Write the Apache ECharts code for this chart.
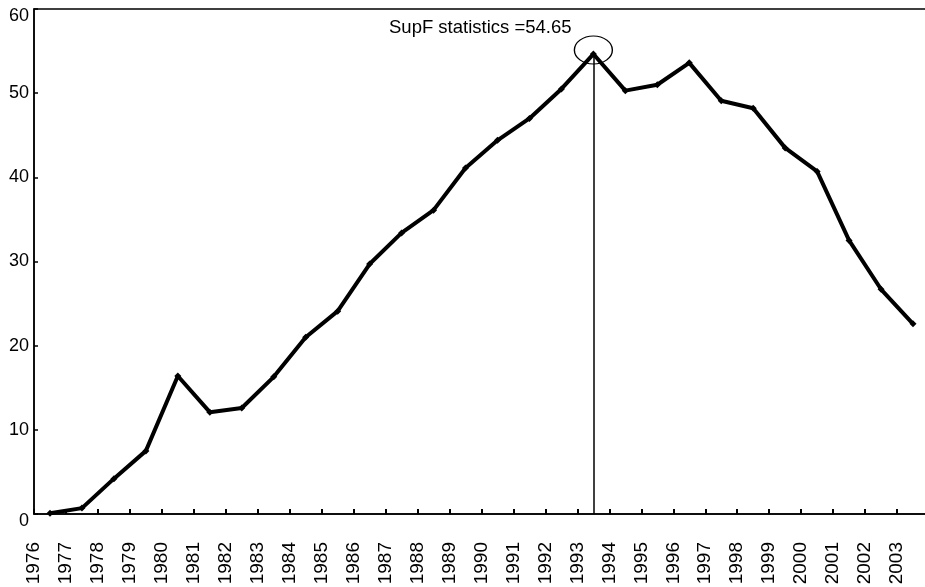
<!DOCTYPE html>
<html>
<head>
<meta charset="utf-8">
<script src="https://cdn.jsdelivr.net/npm/echarts@6/dist/echarts.min.js"></script>
<style>
  html, body { margin: 0; padding: 0; background: #fff; }
  #chart { width: 925px; height: 587px; }
</style>
</head>
<body>
<div id="chart"></div>
<script>
// years and SupF values
const years = ['1976', '1977', '1978', '1979', '1980', '1981', '1982', '1983', '1984', '1985',
  '1986', '1987', '1988', '1989', '1990', '1991', '1992', '1993', '1994', '1995',
  '1996', '1997', '1998', '1999', '2000', '2001', '2002', '2003']
const fStats = [0.1, 0.7, 4.2, 7.5, 16.4, 12.1, 12.6, 16.3, 21.0, 24.1,
  29.7, 33.4, 36.1, 41.1, 44.4, 47.0, 50.5, 54.65, 50.3, 51.0,
  53.6, 49.1, 48.2, 43.5, 40.7, 32.5, 26.7, 22.6]
// tick labels sit on the band edges, one extra blank edge at the end
const tickLabels = years.concat([''])
const peakYear = '1993'
const supF = 54.65

const font = 'Liberation Sans, Arial, Helvetica, sans-serif'
const chart = echarts.init(document.getElementById('chart'))

chart.setOption({
  animation: false,
  title: {
    text: 'SupF statistics =' + supF,
    left: 384,
    top: 13,
    textStyle: { fontFamily: font, fontSize: 18.5, fontWeight: 'normal', color: '#000' }
  },
  grid: {
    left: 34,
    top: 9,
    right: -4,
    bottom: 73,
    outerBoundsMode: 'none',
    containLabel: false,
    show: true,
    borderColor: '#000',
    borderWidth: 1.5
  },
  xAxis: [
    {
      type: 'category',
      data: years,
      boundaryGap: true,
      axisLine: { show: true, onZero: false, lineStyle: { color: '#000', width: 1.5 } },
      axisTick: { show: true, inside: true, length: 5, interval: 0, lineStyle: { color: '#000', width: 2 } },
      axisLabel: { show: false },
      splitLine: { show: false }
    },
    {
      type: 'category',
      data: tickLabels,
      boundaryGap: false,
      position: 'bottom',
      axisLine: { show: false },
      axisTick: { show: false },
      axisLabel: {
        interval: 0,
        rotate: 90,
        margin: 28,
        color: '#000',
        fontFamily: font,
        fontSize: 19
      },
      splitLine: { show: false }
    }
  ],
  yAxis: {
    type: 'value',
    min: 0,
    max: 60,
    interval: 10,
    axisLine: { show: true, lineStyle: { color: '#000', width: 1.5 } },
    axisTick: { show: true, inside: true, length: 4, lineStyle: { color: '#000', width: 1.5 } },
    axisLabel: {
      margin: 5,
      color: '#000',
      fontFamily: font,
      fontSize: 18,
      // end labels sit a little lower in the original
      formatter: v => (v === 0 || v === 60) ? '{e|' + v + '}' : String(v),
      rich: {
        e: { padding: [14, 0, 0, 0], color: '#000', fontFamily: font, fontSize: 18 }
      }
    },
    splitLine: { show: false }
  },
  series: [
    {
      type: 'line',
      xAxisIndex: 0,
      data: fStats,
      symbol: 'diamond',
      symbolSize: 7,
      itemStyle: { color: '#000' },
      lineStyle: { color: '#000', width: 4 },
      markPoint: {
        symbol: 'circle',
        symbolSize: [38, 28],
        symbolOffset: [0, -4],
        itemStyle: { color: 'rgba(0,0,0,0)', borderColor: '#000', borderWidth: 1.2 },
        label: { show: false },
        data: [{ coord: [peakYear, supF] }]
      },
      markLine: {
        silent: true,
        symbol: 'none',
        label: { show: false },
        lineStyle: { color: '#000', width: 1.5, type: 'solid' },
        data: [[{ coord: [peakYear, supF] }, { coord: [peakYear, 0] }]]
      }
    }
  ]
})
</script>
</body>
</html>
